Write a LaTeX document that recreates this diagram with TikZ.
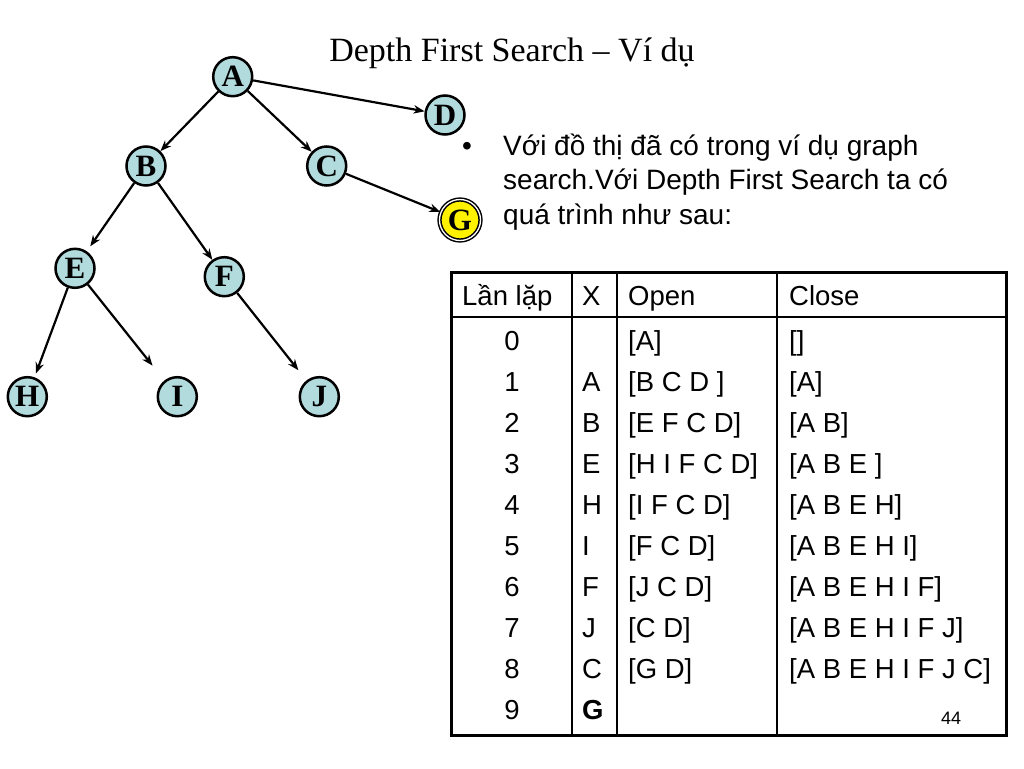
\documentclass[tikz,border=0pt]{standalone}
\usepackage{fontspec}
\setmainfont{Liberation Sans}
\newfontfamily\serifface{Liberation Serif}
\usetikzlibrary{arrows.meta}
\definecolor{nodeblue}{RGB}{178,219,222}
\tikzset{
	vtx/.style={circle, draw, line width=2.5pt, fill=nodeblue, minimum size=39pt, inner sep=0pt,
		font=\serifface\bfseries\fontsize{31}{31}\selectfont},
	goal/.style={vtx, fill=yellow, minimum size=41pt, line width=1.5pt, double=white, double distance=1.3pt},
	arr/.style={-{Stealth[length=11pt,width=8.5pt]}, line width=2.2pt},
	cell/.style={inner sep=0pt, font=\fontsize{27.5}{30}\selectfont},
	txt/.style={inner sep=0pt, anchor=base west, font=\fontsize{28}{34}\selectfont},
}

\begin{document}
\begin{tikzpicture}[x=1pt, y=-1pt]
	\useasboundingbox[fill=white] (0,0) rectangle (1024,768);

	\node[anchor=base, inner sep=0pt, font=\serifface\fontsize{34}{36}\selectfont] (title) at (512,61.7) {Depth First Search – Ví dụ};

	\node[vtx] (A) at (232.7,76.7) {A};
	\node[vtx] (D) at (445,115) {D};
	\node[vtx] (B) at (146,166) {B};
	\node[vtx] (C) at (326.7,166) {C};
	\node[goal] (G) at (460,220) {G};
	\node[vtx] (E) at (75,268.3) {E};
	\node[vtx] (F) at (224.3,276.7) {F};
	\node[vtx] (H) at (27.3,396.7) {H};
	\node[vtx] (I) at (177.3,396.7) {I};
	\node[vtx] (J) at (319.3,396.7) {J};

	\draw[arr] (A) -- (D);
	\draw[arr] (A) -- (B);
	\draw[arr] (A) -- (C);
	\draw[arr] (C) -- (G);
	\draw[arr, shorten >=6pt] (B) -- (E);
	\draw[arr] (B) -- (F);
	\draw[arr, shorten >=4pt] (E) -- (H);
	\draw[arr, shorten >=19pt] (E) -- (I);
	\draw[arr, shorten >=13pt] (F) -- (J);

	\node[txt, anchor=base] (bullet) at (467,155) {•};
	\node[txt] (line1) at (503,155) {Với đồ thị đã có trong ví dụ graph};
	\node[txt] (line2) at (503,189.5) {search.Với Depth First Search ta có};
	\node[txt] (line3) at (503,224) {quá trình như sau:};

	% table
	\draw[line width=3pt] (451,272.5) rectangle (1006.5,735);
	\draw[line width=2.8pt] (451,317) -- (1006.5,317);
	\foreach \cx in {571.7,616.7,776.7}
		\draw[line width=1.6pt] (\cx,272.5) -- (\cx,735);

	\node[cell, anchor=base west] (hIter) at (462,305) {Lần lặp};
	\node[cell, anchor=base west] (hX) at (582,305) {X};
	\node[cell, anchor=base west] (hOpen) at (628,305) {Open};
	\node[cell, anchor=base west] (hClose) at (789,305) {Close};

	\foreach \n/\x/\o/\c [count=\r from 0] in {
		0/{}/{[A]}/{[]},
		1/A/{[B C D ]}/{[A]},
		2/B/{[E F C D]}/{[A B]},
		3/E/{[H I F C D]}/{[A B E ]},
		4/H/{[I F C D]}/{[A B E H]},
		5/I/{[F C D]}/{[A B E H I]},
		6/F/{[J C D]}/{[A B E H I F]},
		7/J/{[C D]}/{[A B E H I F J]},
		8/C/{[G D]}/{[A B E H I F J C]},
		9/{\bfseries G}/{}/{}} {
		\node[cell, anchor=base] (iter\r) at (512,{350+41.1*\r}) {\n};
		\node[cell, anchor=base west] (x\r) at (582,{350+41.1*\r}) {\x};
		\node[cell, anchor=base west] (open\r) at (628,{350+41.1*\r}) {\o};
		\node[cell, anchor=base west] (close\r) at (789,{350+41.1*\r}) {\c};
	}

	\node[inner sep=0pt, anchor=base, font=\fontsize{18}{20}\selectfont] (page) at (951,724.5) {44};
\end{tikzpicture}
\end{document}
